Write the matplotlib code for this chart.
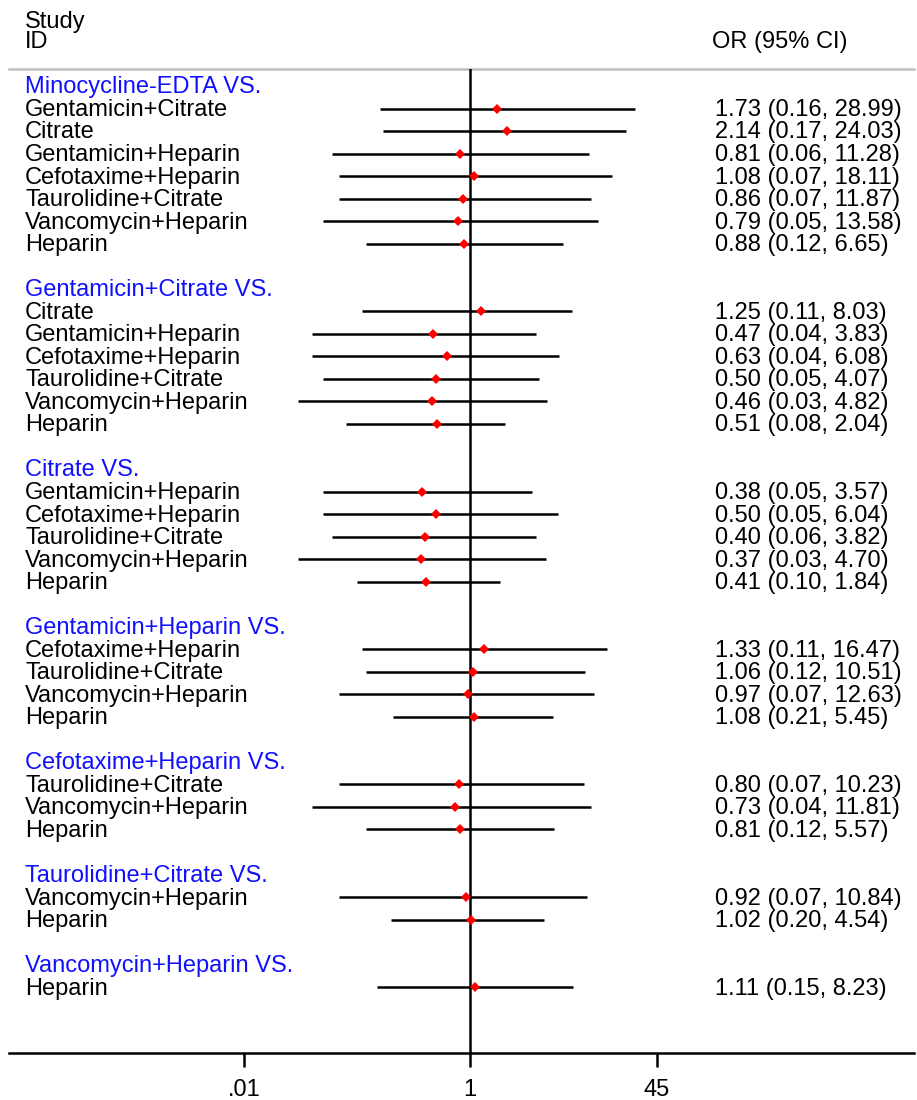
import matplotlib
matplotlib.use("Agg")
import matplotlib.pyplot as plt
import matplotlib.transforms as mtransforms

plt.rcParams['font.family'] = ['Liberation Sans', 'DejaVu Sans']

# Daten: Gruppen (Referenz) und Vergleiche
groups = [
    "Minocycline-EDTA VS.",
    "Gentamicin+Citrate VS.",
    "Citrate VS.",
    "Gentamicin+Heparin VS.",
    "Cefotaxime+Heparin VS.",
    "Taurolidine+Citrate VS.",
    "Vancomycin+Heparin VS.",
]
comparators = [
    ["Gentamicin+Citrate", "Citrate", "Gentamicin+Heparin", "Cefotaxime+Heparin",
     "Taurolidine+Citrate", "Vancomycin+Heparin", "Heparin"],
    ["Citrate", "Gentamicin+Heparin", "Cefotaxime+Heparin", "Taurolidine+Citrate",
     "Vancomycin+Heparin", "Heparin"],
    ["Gentamicin+Heparin", "Cefotaxime+Heparin", "Taurolidine+Citrate",
     "Vancomycin+Heparin", "Heparin"],
    ["Cefotaxime+Heparin", "Taurolidine+Citrate", "Vancomycin+Heparin", "Heparin"],
    ["Taurolidine+Citrate", "Vancomycin+Heparin", "Heparin"],
    ["Vancomycin+Heparin", "Heparin"],
    ["Heparin"],
]
or_vals = [
    [1.73, 2.14, 0.81, 1.08, 0.86, 0.79, 0.88],
    [1.25, 0.47, 0.63, 0.50, 0.46, 0.51],
    [0.38, 0.50, 0.40, 0.37, 0.41],
    [1.33, 1.06, 0.97, 1.08],
    [0.80, 0.73, 0.81],
    [0.92, 1.02],
    [1.11],
]
ci_low = [
    [0.16, 0.17, 0.06, 0.07, 0.07, 0.05, 0.12],
    [0.11, 0.04, 0.04, 0.05, 0.03, 0.08],
    [0.05, 0.05, 0.06, 0.03, 0.10],
    [0.11, 0.12, 0.07, 0.21],
    [0.07, 0.04, 0.12],
    [0.07, 0.20],
    [0.15],
]
ci_high = [
    [28.99, 24.03, 11.28, 18.11, 11.87, 13.58, 6.65],
    [8.03, 3.83, 6.08, 4.07, 4.82, 2.04],
    [3.57, 6.04, 3.82, 4.70, 1.84],
    [16.47, 10.51, 12.63, 5.45],
    [10.23, 11.81, 5.57],
    [10.84, 4.54],
    [8.23],
]
xticks = [0.01, 1, 45]
xticklabels = [".01", "1", "45"]

W, H = 917, 1100
fig = plt.figure(figsize=(W / 100, H / 100), dpi=100)

# Achse: Pixelbereich aus der Vorlage
left, right, top, bottom = 9, 914, 69, 1053
ax = fig.add_axes([left / W, 1 - bottom / H, (right - left) / W, (bottom - top) / H])
ax.set_xscale('log')
ax.set_xlim(10 ** -4.08, 10 ** 3.93)

row0, dy = 86, 22.53
ax.set_ylim((bottom - row0) / dy, (top - row0) / dy)

fs = 17
lw = 1.8
trans = mtransforms.blended_transform_factory(fig.transFigure, ax.transData)
x_lab = 25 / W
x_or = 715 / W
off = 0.33

row = 0
for g, (name, comps) in enumerate(zip(groups, comparators)):
    fig.text(x_lab, row + off, name, color='#1010ff', fontsize=fs,
             transform=trans, va='baseline')
    row += 1
    for i, comp in enumerate(comps):
        o, lo, hi = or_vals[g][i], ci_low[g][i], ci_high[g][i]
        ax.plot([lo, hi], [row, row], color='black', lw=lw, solid_capstyle='butt')
        ax.plot(o, row, marker='D', color='red', ms=5.5, mew=0, zorder=5)
        fig.text(x_lab, row + off, comp, color='black', fontsize=fs,
                 transform=trans, va='baseline')
        fig.text(x_or, row + off, f"{o:.2f} ({lo:.2f}, {hi:.2f})", color='black',
                 fontsize=fs, transform=trans, va='baseline')
        row += 1
    row += 1

# Nulllinie
ax.axvline(1, color='black', lw=lw, zorder=3)
# Kopflinie
ax.axhline(ax.get_ylim()[1], color='#c0c0c0', lw=lw, clip_on=False)

for s in ['top', 'left', 'right']:
    ax.spines[s].set_visible(False)
ax.spines['bottom'].set_linewidth(lw)
ax.set_yticks([])
ax.set_xticks(xticks)
ax.set_xticklabels(xticklabels, fontsize=fs)
ax.minorticks_off()
ax.tick_params(axis='x', length=10, width=lw, pad=9)

# Kopfzeile
fig.text(x_lab, 1 - 28 / H, "Study", fontsize=fs, va='baseline')
fig.text(x_lab, 1 - 48 / H, "ID", fontsize=fs, va='baseline')
fig.text(712 / W, 1 - 48 / H, "OR (95% CI)", fontsize=fs, va='baseline')

fig.savefig("out.png", dpi=100, facecolor='white')
